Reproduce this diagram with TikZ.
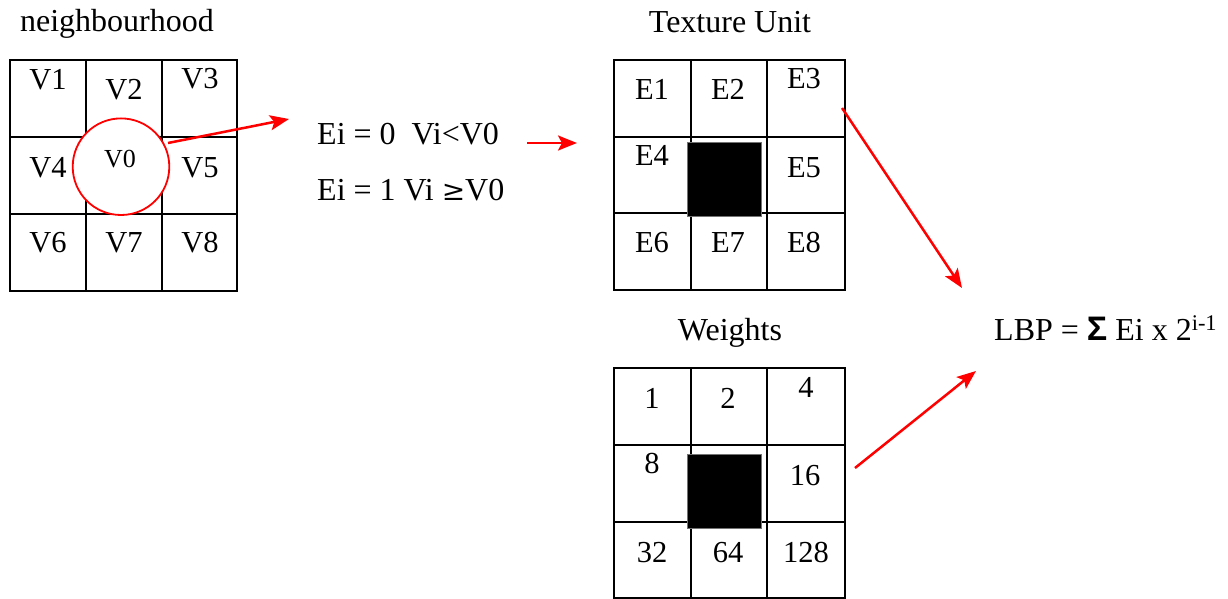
\documentclass[tikz,border=0pt]{standalone}
\usepackage{fontspec}
\setmainfont{Liberation Serif}
\newfontfamily\sigmafont{Liberation Sans}
\usetikzlibrary{arrows.meta}
\begin{document}
\begin{tikzpicture}[x=1pt,y=-1pt,
  gridline/.style={line width=2pt,black},
  lbl/.style={anchor=base,inner sep=0pt,font=\fontsize{30.5}{34}\selectfont},
  lblsmall/.style={anchor=base,inner sep=0pt,font=\fontsize{26}{30}\selectfont},
  ttl/.style={anchor=base,inner sep=0pt,font=\fontsize{32}{36}\selectfont},
  eqn/.style={anchor=base west,inner sep=0pt,font=\fontsize{32}{36}\selectfont},
  centre/.style={fill=black,draw=black!55,line width=0.8pt},
  redarrow/.style={red,line width=2.5pt,-{Stealth[length=19pt,width=15pt,inset=4pt]}}]
\useasboundingbox (0,0) rectangle (1228,599);

% ---------- neighbourhood grid ----------
\node[ttl] (tn) at (117,32) {neighbourhood};
\draw[gridline] (10,60) rectangle (237,291);
\draw[gridline] (86,60) -- (86,291);
\draw[gridline] (162,60) -- (162,291);
\draw[gridline] (10,137) -- (237,137);
\draw[gridline] (10,214) -- (237,214);
\draw[red,line width=1.8pt,fill=white] (121,166.7) circle (48.3);
\node[lbl] (v1) at (48,90) {V1};
\node[lbl] (v2) at (124,100) {V2};
\node[lbl] (v3) at (200,89) {V3};
\node[lbl] (v4) at (48,177) {V4};
\node[lblsmall] (v0) at (120,167) {V0};
\node[lbl] (v5) at (200,177) {V5};
\node[lbl] (v6) at (48,252) {V6};
\node[lbl] (v7) at (124,252) {V7};
\node[lbl] (v8) at (200,252) {V8};

% ---------- equations ----------
\node[eqn] (e0) at (317,145) {Ei = 0\ \ Vi<V0};
\node[eqn] (e1) at (317,200) {Ei = 1 Vi {\fontspec{DejaVu Serif}\fontsize{28}{32}\selectfont ≥}V0};

% ---------- texture unit ----------
\node[ttl] (tt) at (730,33) {Texture Unit};
\draw[gridline] (614,60) rectangle (845,290);
\draw[gridline] (691,60) -- (691,290);
\draw[gridline] (767,60) -- (767,290);
\draw[gridline] (614,137) -- (845,137);
\draw[gridline] (614,213) -- (845,213);
\fill[centre] (687,142) rectangle (761,216);
\node[lbl] (t1) at (652,100) {E1};
\node[lbl] (t2) at (728,100) {E2};
\node[lbl] (t3) at (804,89) {E3};
\node[lbl] (t4) at (652,165) {E4};
\node[lbl] (t5) at (804,177) {E5};
\node[lbl] (t6) at (652,252) {E6};
\node[lbl] (t7) at (728,252) {E7};
\node[lbl] (t8) at (804,252) {E8};

% ---------- weights ----------
\node[ttl] (tw) at (730,340) {Weights};
\draw[gridline] (614,368) rectangle (845,598);
\draw[gridline] (691,368) -- (691,598);
\draw[gridline] (767,368) -- (767,598);
\draw[gridline] (614,445) -- (845,445);
\draw[gridline] (614,522) -- (845,522);
\fill[centre] (687,454) rectangle (761,528);
\node[lbl] (w1) at (652,408) {1};
\node[lbl] (w2) at (728,408) {2};
\node[lbl] (w4) at (806,397) {4};
\node[lbl] (w8) at (652,473) {8};
\node[lbl] (w16) at (805,485) {16};
\node[lbl] (w32) at (652,562) {32};
\node[lbl] (w64) at (728,562) {64};
\node[lbl] (w128) at (806,562) {128};

% ---------- LBP ----------
\node[eqn] (lbp) at (994,340) {LBP = {\sigmafont\bfseries\fontsize{34}{36}\selectfont Σ} Ei x 2\textsuperscript{i-1}};

% ---------- arrows ----------
\coordinate (a1s) at (168,143);
\coordinate (a1e) at (289,119);
\coordinate (a2s) at (527,143);
\coordinate (a2e) at (577,143);
\coordinate (a3s) at (842,108);
\coordinate (a3e) at (962,288);
\coordinate (a4s) at (855,468);
\coordinate (a4e) at (976,371);
\draw[redarrow] (a1s) -- (a1e);
\draw[redarrow] (a2s) -- (a2e);
\draw[redarrow] (a3s) -- (a3e);
\draw[redarrow] (a4s) -- (a4e);
\end{tikzpicture}
\end{document}
